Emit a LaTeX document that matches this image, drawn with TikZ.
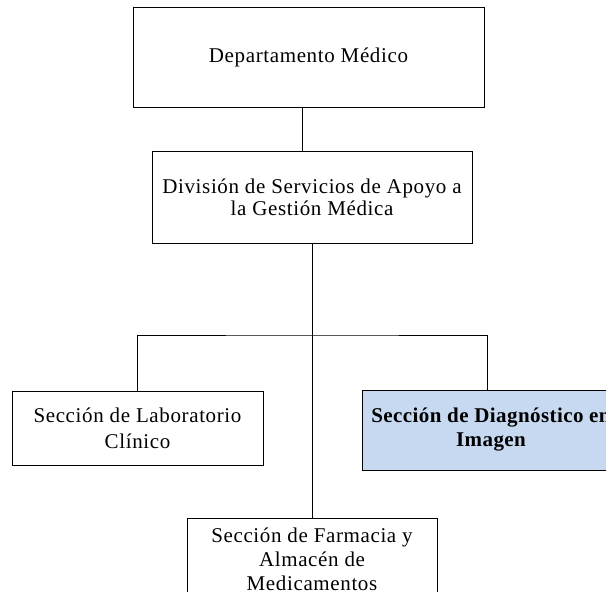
\documentclass[tikz,border=0pt]{standalone}
\usepackage{fontspec}
\setmainfont{Liberation Serif}[LetterSpace=3]
\usepackage{xcolor}
\usepackage{tikz}
\usetikzlibrary{calc,positioning}
\definecolor{lightblue}{RGB}{198,217,240}

\begin{document}
\begin{tikzpicture}[x=1pt, y=-1pt, align=center,
    unit/.style={draw, line width=1pt, inner sep=0pt, font=\fontsize{21}{24}\selectfont},
    link/.style={line width=1pt}]
    \useasboundingbox (0,0) rectangle (606,592);
    \clip (0,0) rectangle (606,592);

    \node [unit, minimum width=351pt, minimum height=100pt] (departamento) at (308.5,57) {Departamento Médico};
    \node [unit, minimum width=320pt, minimum height=92pt, font=\fontsize{21}{22}\selectfont] (division) at (312,197) {División de Servicios de Apoyo a\\la Gestión Médica};

    \node [unit, minimum width=251pt, minimum height=74pt, font=\fontsize{21}{26}\selectfont] (laboratorio) at (137.5,428) {Sección de Laboratorio\\Clínico};
    \node [unit, fill=lightblue, minimum width=258pt, minimum height=80pt, font=\fontsize{21}{24}\selectfont\bfseries\addfontfeatures{LetterSpace=2}] (diagnostico) at (491,430) {Sección de Diagnóstico en\\Imagen};
    \node [unit, minimum width=250pt, minimum height=82pt] (farmacia) at (312,559) {Sección de Farmacia y\\Almacén de\\Medicamentos};

    \coordinate (branch) at (312,335);

    \draw[link] ([xshift=-6.5pt]departamento.south) -- ([xshift=-6.5pt]departamento.south |- division.north);
    \draw[link] (division.south) -- (farmacia.north);
    \draw[link] (laboratorio.north) |- (branch) -| ([xshift=-4pt]diagnostico.north);
\end{tikzpicture}
\end{document}
